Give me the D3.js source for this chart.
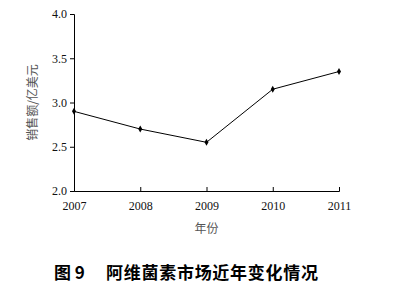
<!DOCTYPE html>
<html>
<head>
<meta charset="utf-8">
<script src="https://cdn.jsdelivr.net/npm/d3@7"></script>
<style>
  body { margin: 0; background: #fff; }
  svg { display: block; }
  .tick text { font-family: "Liberation Serif", "DejaVu Serif", serif; font-size: 12px; fill: #111; }
</style>
</head>
<body>
<svg id="chart"></svg>
<script>
const years = [2007, 2008, 2009, 2010, 2011];
const sales = [2.9, 2.7, 2.55, 3.15, 3.35];
const yTicks = [2.0, 2.5, 3.0, 3.5, 4.0];

const W = 407, H = 289;
const margin = {top: 14, right: 68, bottom: 98, left: 74};
const width = W - margin.left - margin.right;
const height = H - margin.top - margin.bottom;

const svg = d3.select("#chart").attr("width", W).attr("height", H);
const g = svg.append("g").attr("transform", `translate(${margin.left},${margin.top})`);

const x = d3.scaleLinear().domain([2007, 2011]).range([0, width]);
const y = d3.scaleLinear().domain([2, 4]).range([height, 0]);

// y axis, ticks outside
const yAxis = g.append("g")
    .call(d3.axisLeft(y).tickValues(yTicks).tickSize(4).tickPadding(3).tickFormat(d3.format(".1f")));
yAxis.select(".domain").attr("stroke", "#000");

// x axis, ticks pointing up
const xAxis = g.append("g")
    .attr("transform", `translate(0,${height})`)
    .call(d3.axisBottom(x).tickValues(years).tickSize(-4).tickPadding(10).tickFormat(d3.format("d")));
xAxis.select(".domain").attr("stroke", "#000");

const line = d3.line()
    .x((d, i) => x(years[i]))
    .y(d => y(d));

g.append("path")
    .datum(sales)
    .attr("fill", "none")
    .attr("stroke", "#000")
    .attr("stroke-width", 1)
    .attr("d", line);

g.selectAll("path.pt")
    .data(sales)
    .enter().append("path")
    .attr("class", "pt")
    .attr("transform", (d, i) => `translate(${x(years[i])},${y(d)})`)
    .attr("d", d3.symbol(d3.symbolDiamond, 14))
    .attr("fill", "#000");

// axis titles
svg.append("text")
    .attr("transform", `translate(37,${margin.top + height / 2}) rotate(-90)`)
    .attr("text-anchor", "middle")
    .attr("font-family", "'Noto Sans CJK SC', sans-serif")
    .attr("font-size", 12)
    .attr("fill", "#555")
    .text("销售额/亿美元");

svg.append("text")
    .attr("x", margin.left + width / 2)
    .attr("y", 233)
    .attr("text-anchor", "middle")
    .attr("font-family", "'Noto Sans CJK SC', sans-serif")
    .attr("font-size", 12)
    .attr("fill", "#555")
    .text("年份");

// figure caption
const cap = svg.append("g")
    .attr("font-family", "'Noto Sans CJK SC', sans-serif")
    .attr("font-size", 17)
    .attr("font-weight", "bold")
    .attr("fill", "#000");
cap.append("text").attr("x", 54).attr("y", 279).text("图 9");
cap.append("text").attr("x", 106).attr("y", 279).attr("textLength", 212).text("阿维菌素市场近年变化情况");
</script>
</body>
</html>
